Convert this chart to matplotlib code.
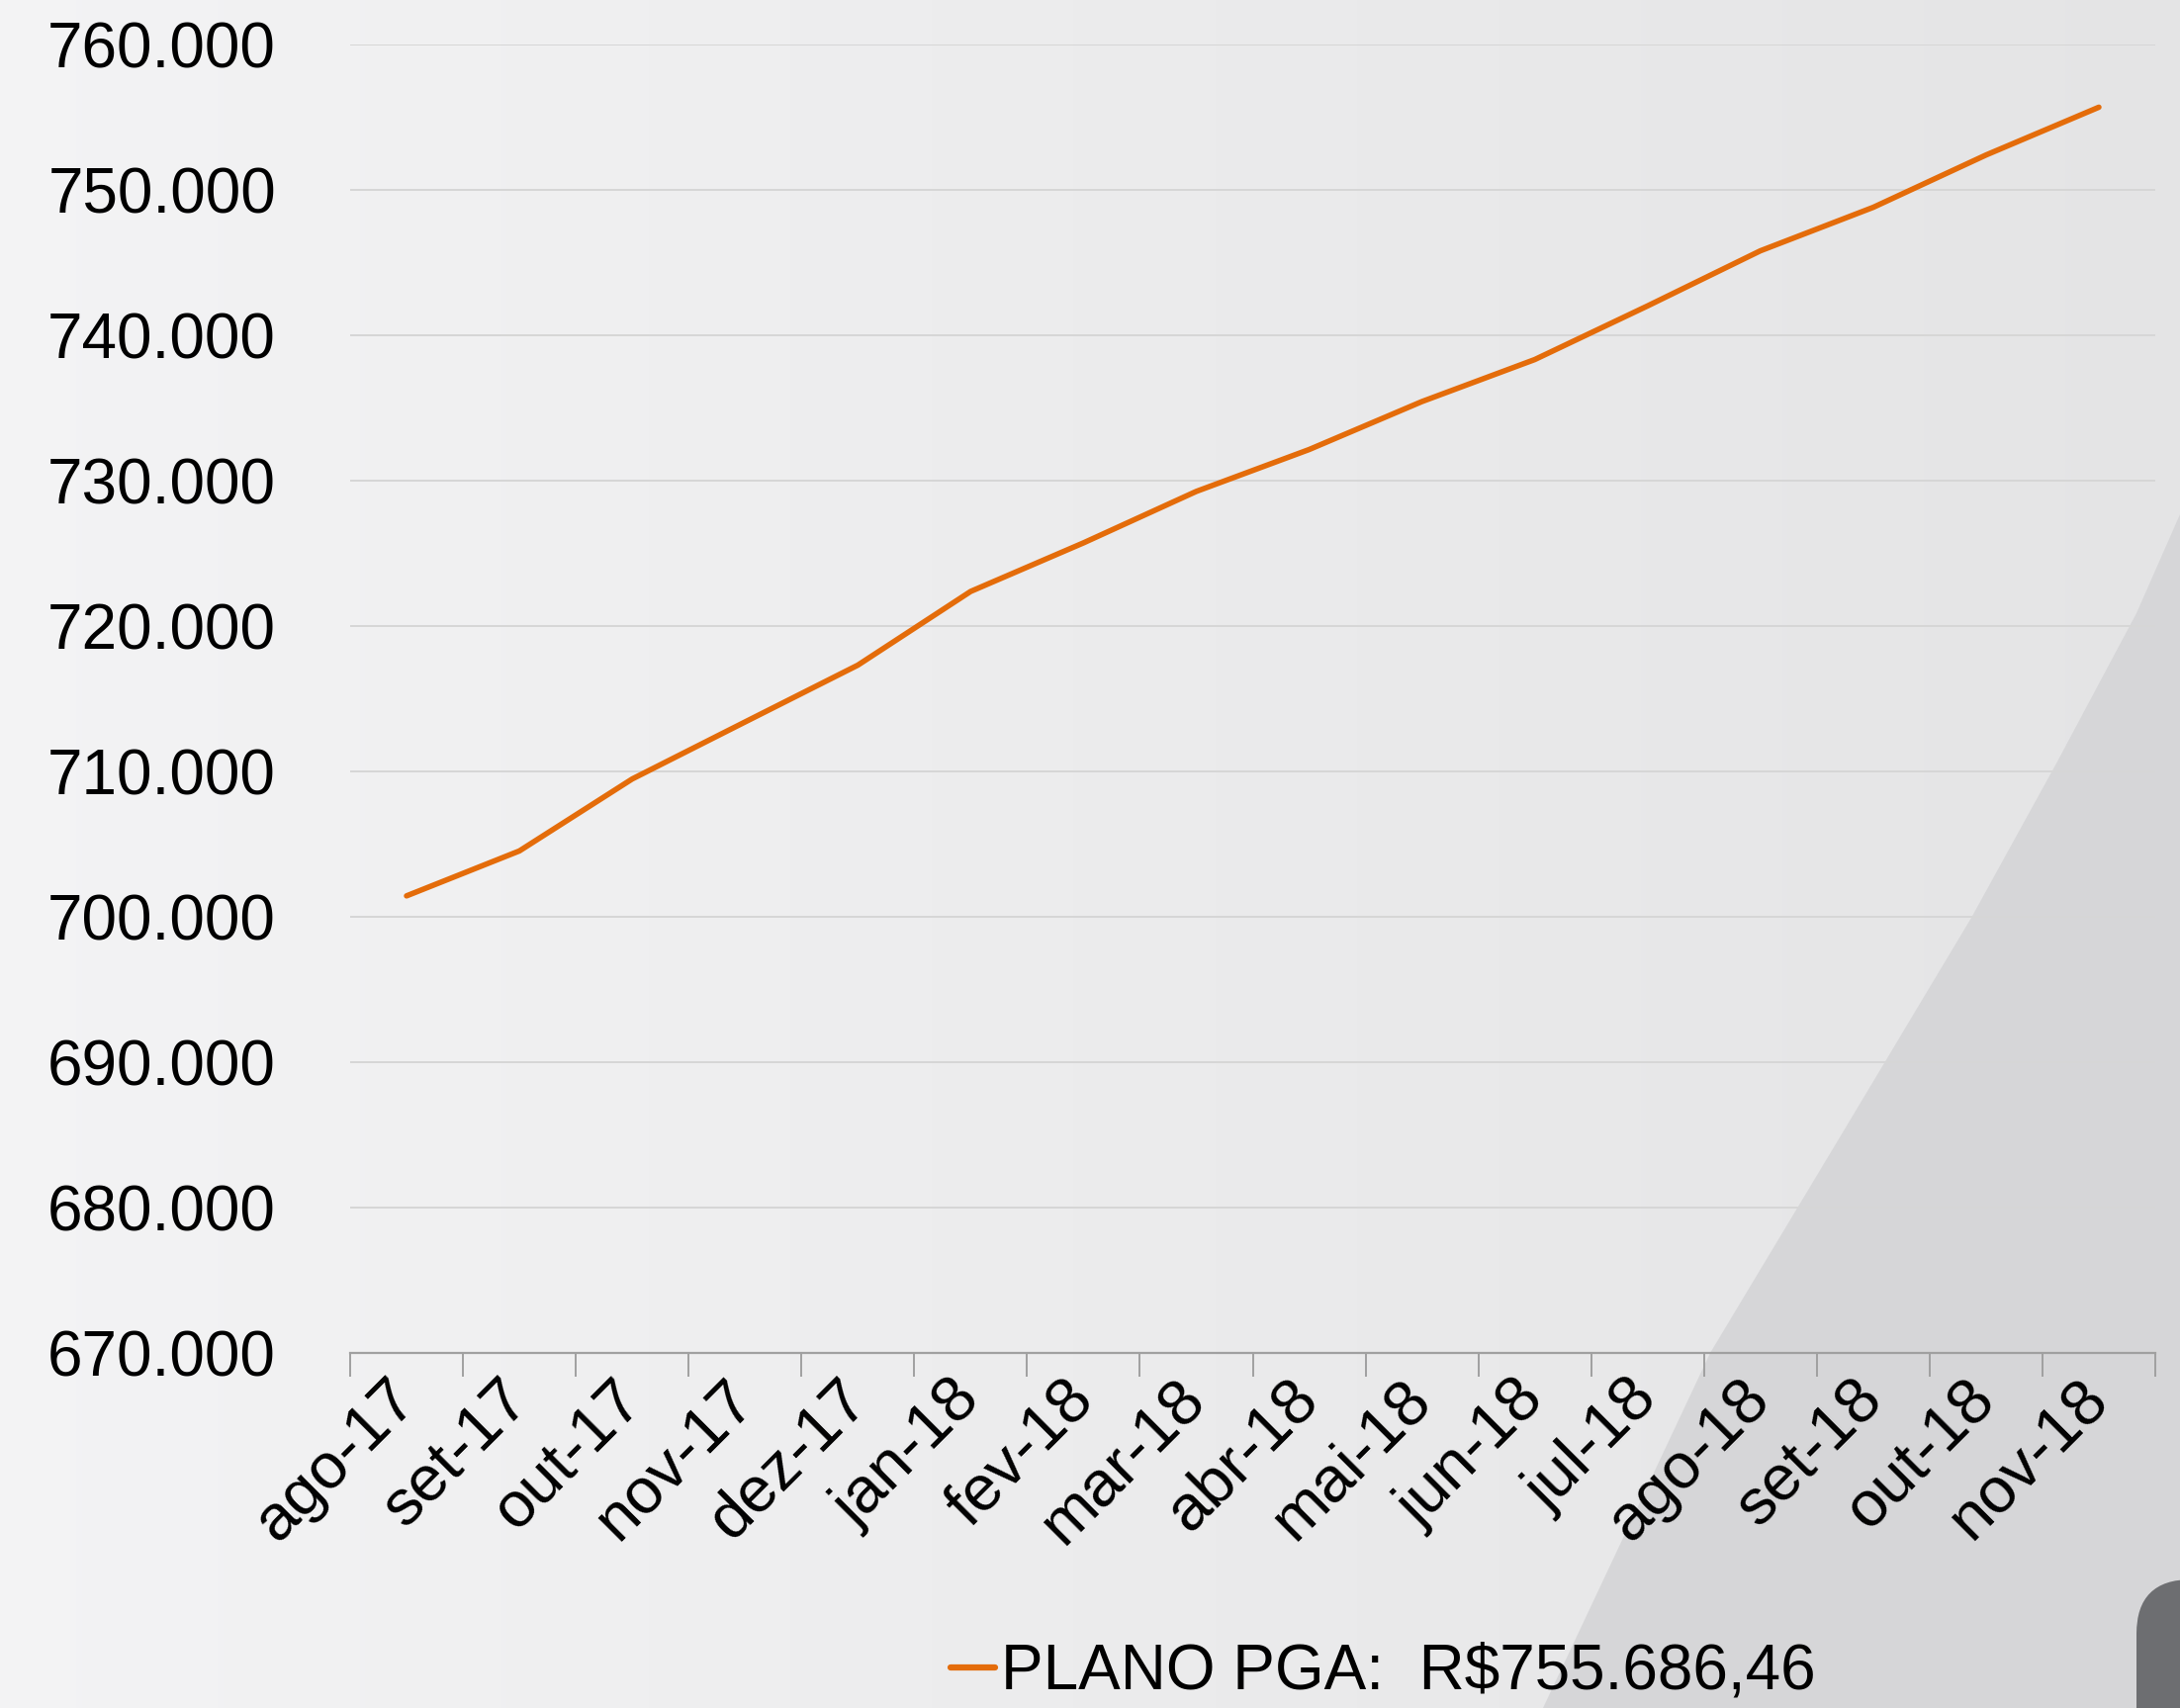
import matplotlib
matplotlib.use("Agg")
import matplotlib.pyplot as plt
import numpy as np
from matplotlib.patches import Polygon, FancyBboxPatch
from matplotlib.ticker import FuncFormatter, FixedLocator

months = ["ago-17", "set-17", "out-17", "nov-17", "dez-17", "jan-18", "fev-18", "mar-18",
          "abr-18", "mai-18", "jun-18", "jul-18", "ago-18", "set-18", "out-18", "nov-18"]
plano_pga = [701440, 704530, 709480, 713400, 717310, 722380, 725720, 729260,
             732140, 735440, 738330, 742020, 745810, 748800, 752400, 755686.46]
y_ticks = [670000, 680000, 690000, 700000, 710000, 720000, 730000, 740000, 750000, 760000]
legend_label = "PLANO PGA:  R\\$755.686,46"

plt.rcParams['font.family'] = ['Liberation Sans', 'DejaVu Sans']

W, H = 2204, 1727
fig = plt.figure(figsize=(W / 100, H / 100), dpi=100)

# background gradient
bg = fig.add_axes([0, 0, 1, 1], zorder=-10)
gx = np.linspace(0, 1, 400)
row = 0.955 - 0.06 * gx
img = np.tile(row, (50, 1))
img3 = np.dstack([img, img, img + 0.004])
bg.imshow(np.clip(img3, 0, 1), aspect='auto', extent=[0, W, 0, H], origin='upper')
# diagonal shaded shape (pixel coords, y from top)
edge = [(2204, 520), (2160, 620), (2080, 770), (1993, 928), (1860, 1150), (1729, 1368), (1560, 1727)]
pts = edge + [(2204, 1727)]
bg.add_patch(Polygon([(x, H - y) for x, y in pts], closed=True, facecolor='#d5d5d7',
                     edgecolor='none', alpha=0.9))
bg.add_patch(FancyBboxPatch((2160, -60), 140, 190, boxstyle="round,pad=0,rounding_size=55",
                            facecolor='#6d6e71', edgecolor='none'))
bg.set_xlim(0, W)
bg.set_ylim(0, H)
bg.axis('off')

ax = fig.add_axes([354 / W, 1 - 1368 / H, (2179 - 354) / W, (1368 - 45) / H])
ax.patch.set_alpha(0)

x = np.arange(len(months))
ax.plot(x, plano_pga, color='#E46C0A', linewidth=4.0, solid_capstyle='round',
        label=legend_label, zorder=3)

ax.set_xlim(-0.5, len(months) - 0.5)
ax.set_ylim(y_ticks[0], y_ticks[-1])
ax.set_yticks(y_ticks)
ax.yaxis.set_major_formatter(FuncFormatter(lambda v, p: f"{int(v):,}".replace(",", ".")))
ax.grid(axis='y', color='#d6d6d6', linewidth=1.4, zorder=0)
ax.set_axisbelow(True)

for s in ['left', 'right', 'top']:
    ax.spines[s].set_visible(False)
ax.spines['bottom'].set_color('#a0a0a0')
ax.spines['bottom'].set_linewidth(1.6)

ax.tick_params(axis='y', length=0, pad=54, labelsize=46, labelcolor='black')
ax.set_xticks(x)
ax.set_xticklabels(months, rotation=45, ha='right', va='center', rotation_mode='anchor', fontsize=47)
ax.tick_params(axis='x', which='major', length=0, pad=27)
ax.xaxis.set_minor_locator(FixedLocator(np.arange(-0.5, len(months), 1.0)))
ax.tick_params(axis='x', which='minor', length=17, width=1.4, color='#a0a0a0', direction='out')

leg = fig.legend(loc='center', bbox_to_anchor=(995 * 1.4056 / W, 1 - 1691 / H),
                 frameon=False, fontsize=46, handlelength=0.7, handletextpad=0.1)
for line in leg.get_lines():
    line.set_linewidth(4.5)

fig.savefig("out.png", dpi=100)
